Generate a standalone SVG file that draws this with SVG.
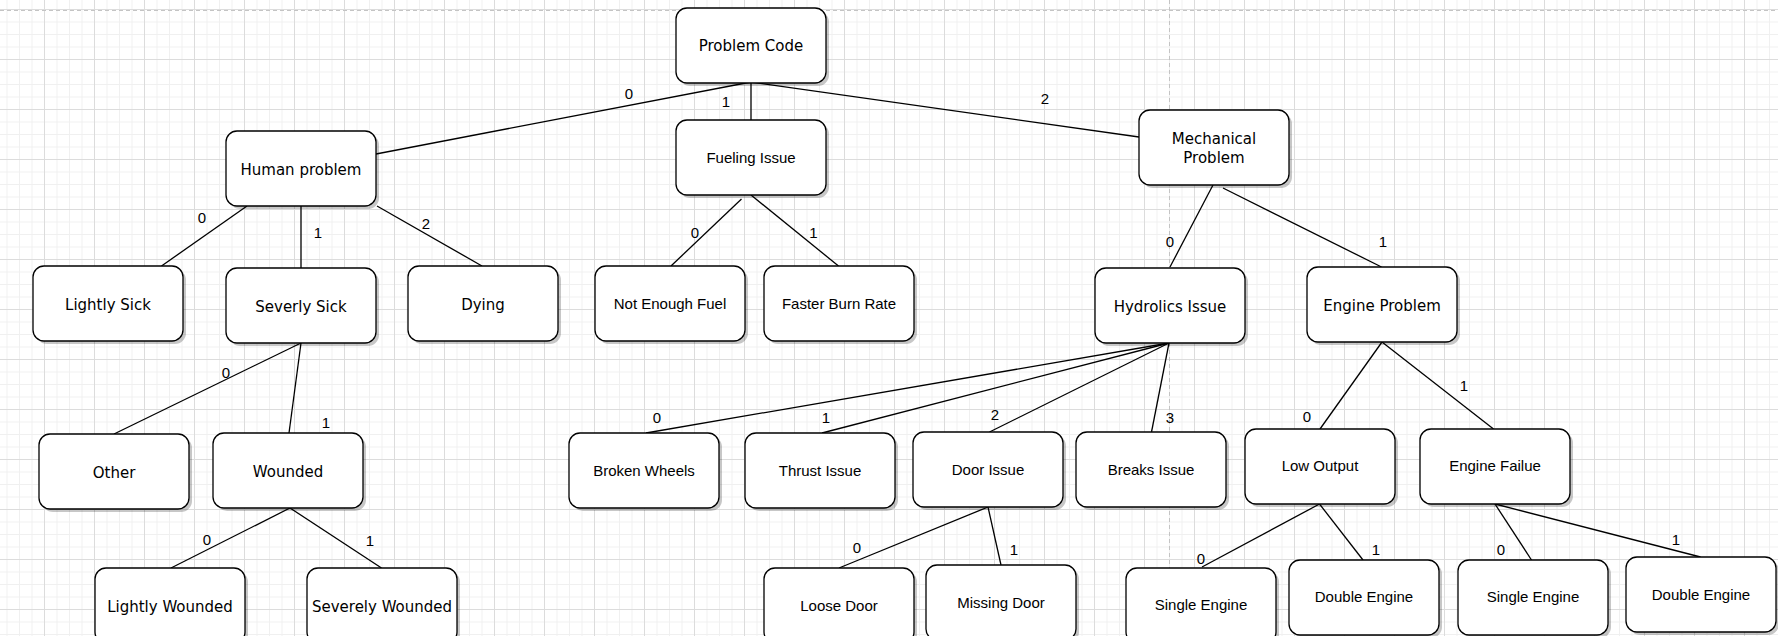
<svg xmlns="http://www.w3.org/2000/svg" width="1778" height="636" viewBox="0 0 1778 636">
<style>
.box{fill:#fff;stroke:#000;stroke-width:1.3}
.sh{fill:#000;opacity:0.22}
.v{font-family:"DejaVu Sans",Verdana,sans-serif;font-size:15px;fill:#000;text-anchor:middle}
.a{font-family:"Liberation Sans",Arial,sans-serif;font-size:15px;fill:#000;text-anchor:middle}
.lbl{font-family:"Liberation Sans",Arial,sans-serif;font-size:15px;fill:#000;text-anchor:middle}
.e{stroke:#000;stroke-width:1.3;fill:none}
</style>
<defs>
<pattern id="minor" width="12.5" height="12.5" patternUnits="userSpaceOnUse" x="44" y="9">
<path d="M0.5 0V12.5M0 0.5H12.5" stroke="#f0f0f0" stroke-width="1"/>
</pattern>
<pattern id="major" width="50" height="50" patternUnits="userSpaceOnUse" x="44" y="9">
<path d="M0.5 0V50M0 0.5H50" stroke="#dcdcdc" stroke-width="1"/>
</pattern>
<rect id="b" class="box" width="150" height="75" rx="11" ry="11"/>
<rect id="s" class="sh" x="3" y="3" width="150" height="75" rx="11" ry="11"/>
</defs>
<rect width="1778" height="636" fill="#fff"/>
<rect width="1778" height="636" fill="url(#minor)"/>
<rect width="1778" height="636" fill="url(#major)"/>
<path d="M0 10.5H1778M1169.5 0V636" stroke="#c4c4c4" stroke-width="1" stroke-dasharray="4 3" fill="none"/>

<g id="connectors" class="e">
<path d="M751 82L376 154"/>
<path d="M751 82V120"/>
<path d="M751 82L1139 137"/>
<path d="M247 206L161.5 266"/>
<path d="M301 206V268"/>
<path d="M377 206L482 266"/>
<path d="M301 343L114 434"/>
<path d="M301 343L289 433"/>
<path d="M290 508L171 568"/>
<path d="M290 508L381.5 568"/>
<path d="M741.5 199L671 266"/>
<path d="M751 195L838.5 266"/>
<path d="M1213 185L1170 267"/>
<path d="M1223 188L1381.5 267"/>
<path d="M1169 343L646 433"/>
<path d="M1169 343L822 433"/>
<path d="M1169 343L989.5 432"/>
<path d="M1169 343L1151.5 432"/>
<path d="M988 507L839 568"/>
<path d="M988 507L1001 565"/>
<path d="M1382 342L1320 429"/>
<path d="M1382 342L1493.5 429"/>
<path d="M1319.5 504L1202 567"/>
<path d="M1319.5 504L1363 560"/>
<path d="M1495 504L1531.5 560"/>
<path d="M1495 504L1700.5 557"/>
</g>

<g id="edge-labels" class="lbl">
<text x="629" y="98.5">0</text>
<text x="726" y="106.5">1</text>
<text x="1045" y="103.5">2</text>
<text x="202" y="222.5">0</text>
<text x="318" y="237.5">1</text>
<text x="426" y="228.5">2</text>
<text x="226" y="377.5">0</text>
<text x="326" y="427.5">1</text>
<text x="207" y="544.5">0</text>
<text x="370" y="545.5">1</text>
<text x="695" y="237.5">0</text>
<text x="813.5" y="237.5">1</text>
<text x="1170" y="246.5">0</text>
<text x="1383" y="246.5">1</text>
<text x="657" y="422.5">0</text>
<text x="826" y="422.5">1</text>
<text x="995" y="419.5">2</text>
<text x="1170" y="422.5">3</text>
<text x="857" y="552.5">0</text>
<text x="1014" y="554.5">1</text>
<text x="1307" y="421.5">0</text>
<text x="1464" y="390.5">1</text>
<text x="1201" y="563.5">0</text>
<text x="1376" y="554.5">1</text>
<text x="1501" y="554.5">0</text>
<text x="1676" y="544.5">1</text>
</g>

<g id="problem-code" transform="translate(676,8)"><use href="#s"/><use href="#b"/><text class="v" x="75" y="43">Problem Code</text></g>
<g id="human-problem" transform="translate(226,131)"><use href="#s"/><use href="#b"/><text class="v" x="75" y="44">Human problem</text></g>
<g id="fueling-issue" transform="translate(676,120)"><use href="#s"/><use href="#b"/><text class="a" x="75" y="43">Fueling Issue</text></g>
<g id="mechanical-problem" transform="translate(1139,110)"><use href="#s"/><use href="#b"/><text class="v" x="75" y="34">Mechanical</text><text class="v" x="75" y="52.5">Problem</text></g>
<g id="lightly-sick" transform="translate(33,266)"><use href="#s"/><use href="#b"/><text class="v" x="75" y="44">Lightly Sick</text></g>
<g id="severly-sick" transform="translate(226,268)"><use href="#s"/><use href="#b"/><text class="v" x="75" y="44">Severly Sick</text></g>
<g id="dying" transform="translate(408,266)"><use href="#s"/><use href="#b"/><text class="v" x="75" y="44">Dying</text></g>
<g id="not-enough-fuel" transform="translate(595,266)"><use href="#s"/><use href="#b"/><text class="a" x="75" y="43">Not Enough Fuel</text></g>
<g id="faster-burn-rate" transform="translate(764,266)"><use href="#s"/><use href="#b"/><text class="a" x="75" y="43">Faster Burn Rate</text></g>
<g id="hydrolics-issue" transform="translate(1095,268)"><use href="#s"/><use href="#b"/><text class="v" x="75" y="44">Hydrolics Issue</text></g>
<g id="engine-problem" transform="translate(1307,267)"><use href="#s"/><use href="#b"/><text class="v" x="75" y="44">Engine Problem</text></g>
<g id="other" transform="translate(39,434)"><use href="#s"/><use href="#b"/><text class="v" x="75" y="44">Other</text></g>
<g id="wounded" transform="translate(213,433)"><use href="#s"/><use href="#b"/><text class="v" x="75" y="44">Wounded</text></g>
<g id="lightly-wounded" transform="translate(95,568)"><use href="#s"/><use href="#b"/><text class="v" x="75" y="44">Lightly Wounded</text></g>
<g id="severely-wounded" transform="translate(307,568)"><use href="#s"/><use href="#b"/><text class="v" x="75" y="44" textLength="140" lengthAdjust="spacingAndGlyphs">Severely Wounded</text></g>
<g id="broken-wheels" transform="translate(569,433)"><use href="#s"/><use href="#b"/><text class="a" x="75" y="43">Broken Wheels</text></g>
<g id="thrust-issue" transform="translate(745,433)"><use href="#s"/><use href="#b"/><text class="a" x="75" y="43">Thrust Issue</text></g>
<g id="door-issue" transform="translate(913,432)"><use href="#s"/><use href="#b"/><text class="a" x="75" y="43">Door Issue</text></g>
<g id="breaks-issue" transform="translate(1076,432)"><use href="#s"/><use href="#b"/><text class="a" x="75" y="43">Breaks Issue</text></g>
<g id="low-output" transform="translate(1245,429)"><use href="#s"/><use href="#b"/><text class="a" x="75" y="42">Low Output</text></g>
<g id="engine-failue" transform="translate(1420,429)"><use href="#s"/><use href="#b"/><text class="a" x="75" y="42">Engine Failue</text></g>
<g id="loose-door" transform="translate(764,568)"><use href="#s"/><use href="#b"/><text class="a" x="75" y="43">Loose Door</text></g>
<g id="missing-door" transform="translate(926,565)"><use href="#s"/><use href="#b"/><text class="a" x="75" y="43">Missing Door</text></g>
<g id="single-engine-1" transform="translate(1126,568)"><use href="#s"/><use href="#b"/><text class="a" x="75" y="42">Single Engine</text></g>
<g id="double-engine-1" transform="translate(1289,560)"><use href="#s"/><use href="#b"/><text class="a" x="75" y="42">Double Engine</text></g>
<g id="single-engine-2" transform="translate(1458,560)"><use href="#s"/><use href="#b"/><text class="a" x="75" y="42">Single Engine</text></g>
<g id="double-engine-2" transform="translate(1626,557)"><use href="#s"/><use href="#b"/><text class="a" x="75" y="43">Double Engine</text></g>
</svg>
